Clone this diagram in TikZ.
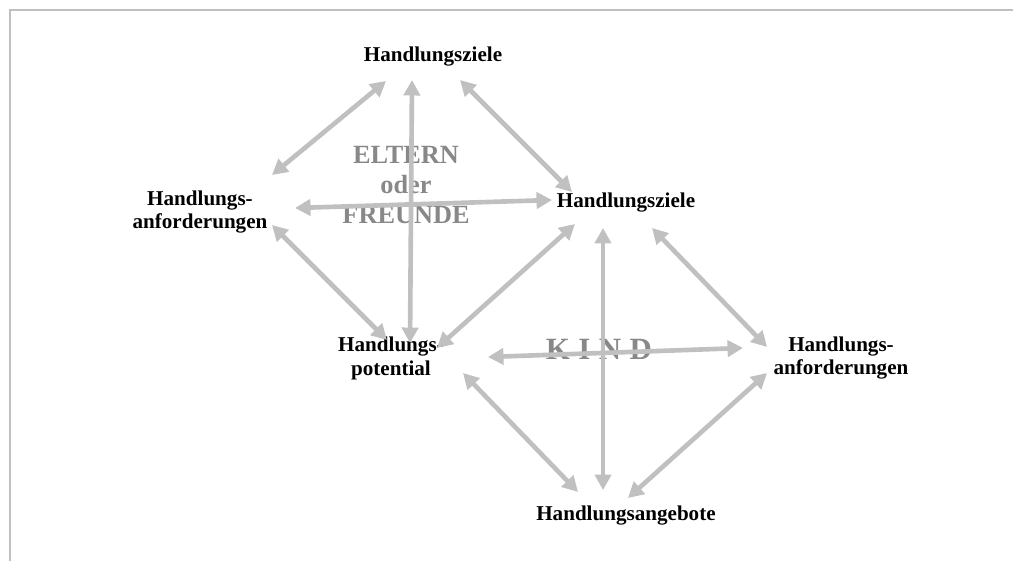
\documentclass[tikz,border=0pt]{standalone}
\usepackage{fontspec}
\setmainfont{Liberation Serif}
\usetikzlibrary{arrows.meta,calc}
\definecolor{pfeilgrau}{HTML}{C0C0C0}
\definecolor{textgrau}{HTML}{888888}
\begin{document}
\begin{tikzpicture}[x=0.025cm, y=-0.025cm,
  pf/.style={pfeilgrau, line width=3.3pt,
    {Triangle[length=11pt,width=11.5pt]}-{Triangle[length=11pt,width=11.5pt]}},
  lbl/.style={font=\bfseries\fontsize{15}{17}\selectfont, align=center, inner sep=0pt},
  grp/.style={textgrau, font=\bfseries\fontsize{18.7}{21.3}\selectfont, align=center, inner sep=0pt}]
\useasboundingbox (0,0) rectangle (1013,561);
% Rahmen
\draw[pfeilgrau, line width=1.5pt] (10,561) -- (10,10) -- (1013,10);
% Gruppen
\node[grp] (EF) at (406,185) {ELTERN\\oder\\FREUNDE};
\node[grp, font=\bfseries\fontsize{22}{24}\selectfont] (K) at (599,349) {K\hspace{6pt}I\hspace{6pt}N\hspace{6pt}D};
% Begriffe
\node[lbl] (Z1) at (433,57)  {Handlungsziele};
\node[lbl] (A1) at (200,212) {Handlungs-\\anforderungen};
\node[lbl] (Z2) at (626,203) {Handlungsziele};
\node[lbl] (P)  at (391,358) {Handlungs-\\potential};
\node[lbl] (A2) at (841,358) {Handlungs-\\anforderungen};
\node[lbl] (G)  at (626,515) {Handlungsangebote};
% Pfeile oben (Eltern oder Freunde)
\draw[pf] ($(Z1)+(-47,24)$) -- ($(A1)+(72,-37)$);
\draw[pf] ($(Z1)+(-21,23)$) -- ($(P)+(19,-15)$);
\draw[pf] ($(Z1)+(27,23)$)  -- ($(Z2)+(-54,-11)$);
\draw[pf] ($(A1)+(95,-4)$)  -- ($(Z2)+(-74,-3)$);
\draw[pf] ($(A1)+(72,13)$)  -- ($(P)+(-4,-18)$);
\draw[pf] ($(Z2)+(-51,21)$) -- ($(P)+(46,-10)$);
% Pfeile unten (Kind)
\draw[pf] ($(Z2)+(-23,25)$) -- ($(G)+(-23,-25)$);
\draw[pf] ($(Z2)+(26,25)$)  -- ($(A2)+(-74,-11)$);
\draw[pf] ($(P)+(97,-1)$)   -- ($(A2)+(-98,-10)$);
\draw[pf] ($(P)+(72,15)$)   -- ($(G)+(-48,-23)$);
\draw[pf] ($(A2)+(-74,15)$) -- ($(G)+(2,-17)$);
\end{tikzpicture}
\end{document}
